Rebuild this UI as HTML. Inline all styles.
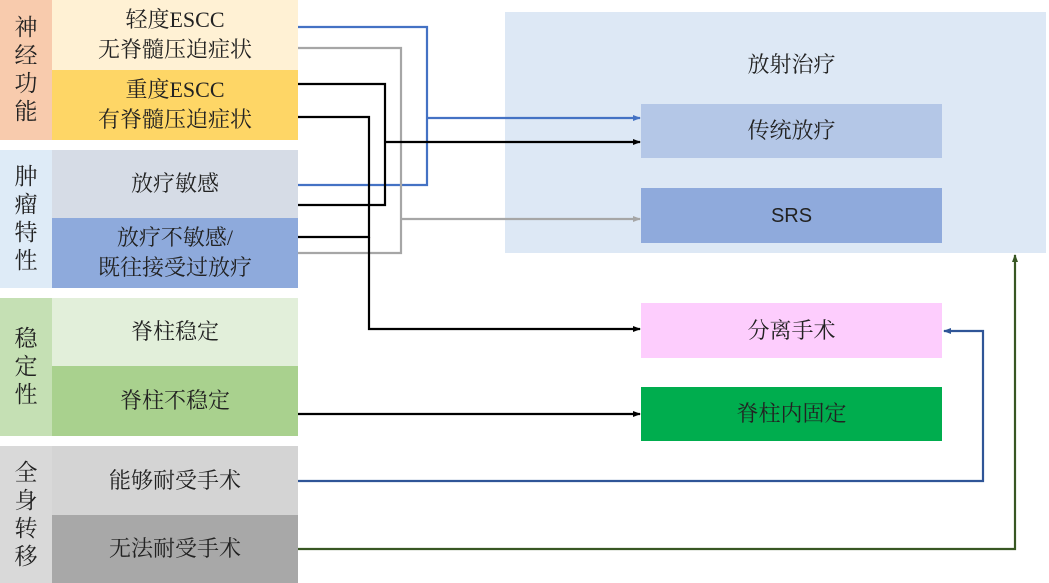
<!DOCTYPE html>
<html><head><meta charset="utf-8"><style>
body{margin:0;width:1049px;height:583px;background:#fff;position:relative;overflow:hidden;font-family:"Liberation Serif","Noto Serif CJK SC","Noto Sans CJK SC",serif;color:#222}
.b{position:absolute;display:flex;align-items:center;justify-content:center;text-align:center;font-size:22px;line-height:30px}
.c{position:absolute;display:flex;align-items:center;justify-content:center;text-align:center;font-size:23px;line-height:28px;width:52px}
</style></head><body>
<div class="c" style="left:0;top:0;height:140px;background:#f8cbad">神<br>经<br>功<br>能</div>
<div class="b" style="left:52px;top:0;width:246px;height:70px;background:#fff1d4">轻度ESCC<br>无脊髓压迫症状</div>
<div class="b" style="left:52px;top:70px;width:246px;height:70px;background:#fed666">重度ESCC<br>有脊髓压迫症状</div>
<div class="c" style="left:0;top:150px;height:138px;background:#deebf7">肿<br>瘤<br>特<br>性</div>
<div class="b" style="left:52px;top:150px;width:246px;height:68px;background:#d6dce6">放疗敏感</div>
<div class="b" style="left:52px;top:218px;width:246px;height:70px;background:#8eaadc">放疗不敏感/<br>既往接受过放疗</div>
<div class="c" style="left:0;top:298px;height:138px;background:#c5e0b4">稳<br>定<br>性</div>
<div class="b" style="left:52px;top:298px;width:246px;height:68px;background:#e2efda">脊柱稳定</div>
<div class="b" style="left:52px;top:366px;width:246px;height:70px;background:#a9d18e">脊柱不稳定</div>
<div class="c" style="left:0;top:446px;height:137px;background:#d9d9d9">全<br>身<br>转<br>移</div>
<div class="b" style="left:52px;top:446px;width:246px;height:69px;background:#d4d4d4">能够耐受手术</div>
<div class="b" style="left:52px;top:515px;width:246px;height:68px;background:#a8a8a8">无法耐受手术</div>

<div style="position:absolute;left:505px;top:12px;width:541px;height:241px;background:#dde8f5"></div>
<div class="b" style="left:641px;top:40px;width:301px;height:50px">放射治疗</div>
<div class="b" style="left:641px;top:104px;width:301px;height:54px;background:#b4c7e7">传统放疗</div>
<div class="b" style="left:641px;top:188px;width:301px;height:55px;background:#8faadc;font-family:'Liberation Sans',sans-serif;font-size:20px">SRS</div>
<div class="b" style="left:641px;top:303px;width:301px;height:55px;background:#fdcdfd">分离手术</div>
<div class="b" style="left:641px;top:387px;width:301px;height:54px;background:#00ad4e">脊柱内固定</div>

<svg width="1049" height="583" style="position:absolute;left:0;top:0" fill="none" stroke-width="2.2">
<defs>
<marker id="a" markerWidth="8" markerHeight="8" refX="7" refY="4" orient="auto" markerUnits="userSpaceOnUse"><path d="M0,1L8,4L0,7z" fill="context-stroke" stroke="none"/></marker>
</defs>
<g stroke="#4472c4"><path d="M298,27H427V185H298"/><path d="M427,118H640" marker-end="url(#a)"/></g>
<g stroke="#a6a6a6"><path d="M298,48H401V253H298"/><path d="M401,219H640" marker-end="url(#a)"/></g>
<g stroke="#000"><path d="M298,84H385V205H298"/><path d="M385,142H640" marker-end="url(#a)"/>
<path d="M298,117H369V237H298"/><path d="M369,237V329H640" marker-end="url(#a)"/>
<path d="M298,414H640" marker-end="url(#a)"/></g>
<path stroke="#2f5597" d="M298,481H983V331H944" marker-end="url(#a)"/>
<path stroke="#385723" d="M298,549H1015V255" marker-end="url(#a)"/>
</svg>
</body></html>
